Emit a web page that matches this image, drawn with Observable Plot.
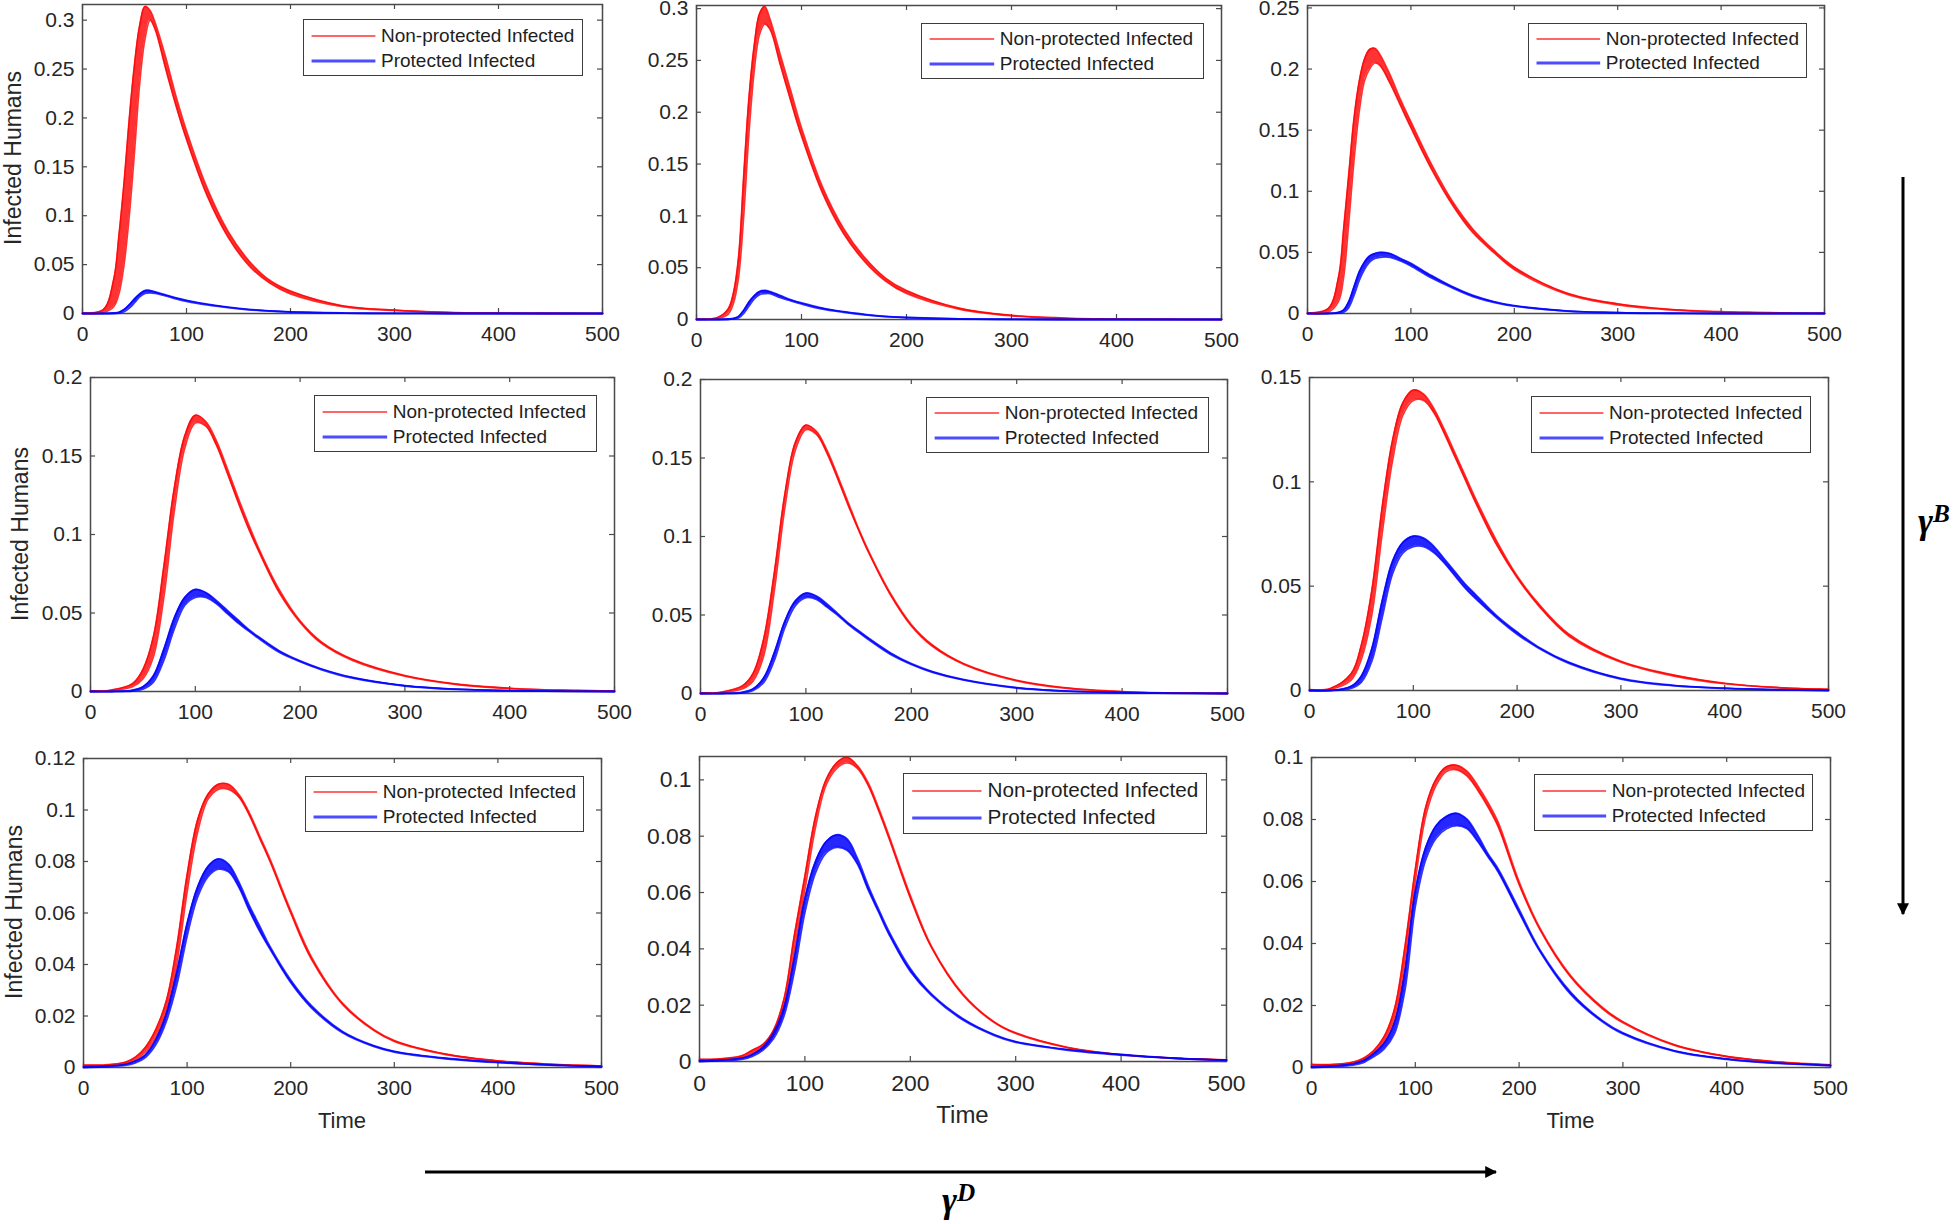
<!DOCTYPE html>
<html><head><meta charset="utf-8">
<script src="https://cdn.jsdelivr.net/npm/d3@7"></script>
<script src="https://cdn.jsdelivr.net/npm/@observablehq/plot@0.6"></script>
<style>
html,body{margin:0;padding:0;background:#fff;}
#fig{position:relative;width:1959px;height:1224px;overflow:hidden;background:#fff;font-family:"Liberation Sans",Arial,Helvetica,sans-serif;color:#262626;}
.legend{position:absolute;border:1.5px solid #3c3c3c;background:#fff;box-sizing:border-box;}
.legend .row{position:absolute;left:0;right:0;height:0;}
.legend .row svg{position:absolute;top:-3px;overflow:visible;}
.legend .row span{position:absolute;top:0;transform:translateY(-52%);white-space:nowrap;line-height:1;color:#1e1e1e;}
.ylab{position:absolute;transform:translate(-50%,-50%) rotate(-90deg);white-space:nowrap;line-height:1;}
.xlab{position:absolute;transform:translate(-50%,-50%);white-space:nowrap;line-height:1;}
.gam{position:absolute;font-family:"Liberation Serif","DejaVu Serif",serif;font-style:italic;font-weight:bold;color:#000;line-height:1;white-space:nowrap;}
.gam sup{font-size:70%;vertical-align:0;position:relative;top:-0.42em;}
</style></head>
<body><div id="fig"></div>
<script>
// ---------- data ----------
const seriesNames = ["Non-protected Infected", "Protected Infected"];
const yLabel = "Infected Humans";
const xLabel = "Time";
const xTicks = [0, 100, 200, 300, 400, 500];
const yTicks03 = [0, 0.05, 0.1, 0.15, 0.2, 0.25, 0.3];
const yTicks025 = [0, 0.05, 0.1, 0.15, 0.2, 0.25];
const yTicks02 = [0, 0.05, 0.1, 0.15, 0.2];
const yTicks015 = [0, 0.05, 0.1, 0.15];
const yTicks012 = [0, 0.02, 0.04, 0.06, 0.08, 0.1, 0.12];
const yTicks01 = [0, 0.02, 0.04, 0.06, 0.08, 0.1];

// time grids
const T1 = [0,20,30,35,40,45,50,55,60,65,70,80,90,100,120,140,160,180,200,250,300,350,400,500];
const T2 = [0,20,40,50,60,70,80,90,100,110,120,130,140,150,160,180,200,220,250,300,350,400,450,500];
const T3 = [0,20,40,50,60,70,80,90,100,110,120,130,140,150,160,170,180,200,220,250,280,300,350,400,450,500];

// row 1
const aRedHi = [0.0005,0.004,0.035,0.08,0.135,0.2,0.255,0.295,0.314,0.31,0.297,0.262,0.222,0.187,0.128,0.084,0.054,0.034,0.023,0.008,0.0035,0.0012,0.0004,0];
const aRedLo = [0,0.001,0.007,0.02,0.05,0.1,0.165,0.235,0.28,0.3,0.29,0.25,0.212,0.178,0.12,0.078,0.049,0.031,0.02,0.007,0.003,0.001,0.0003,0];
const aBlueHi = [0,0,0.0005,0.0012,0.004,0.009,0.015,0.02,0.0235,0.0235,0.022,0.019,0.016,0.0135,0.0095,0.0065,0.0042,0.0027,0.0017,0.0005,0.0001,0,0,0];
const aBlueLo = [0,0,0,0.0004,0.0018,0.0055,0.011,0.017,0.0205,0.021,0.0205,0.018,0.015,0.0125,0.0088,0.006,0.0038,0.0024,0.0015,0.0004,0.0001,0,0,0];

const bRedHi = [0.0005,0.002,0.01,0.025,0.06,0.14,0.215,0.265,0.295,0.302,0.29,0.255,0.22,0.185,0.128,0.088,0.06,0.04,0.028,0.011,0.004,0.0015,0.0005,0];
const bRedLo = [0,0.001,0.005,0.015,0.04,0.1,0.18,0.24,0.275,0.285,0.28,0.245,0.21,0.177,0.122,0.083,0.056,0.037,0.025,0.01,0.0035,0.001,0.0003,0];
const bBlueHi = [0,0,0.0005,0.001,0.003,0.009,0.017,0.023,0.027,0.028,0.027,0.023,0.019,0.016,0.011,0.0075,0.005,0.003,0.002,0.0006,0.0002,0,0,0];
const bBlueLo = [0,0,0,0.0005,0.0015,0.006,0.013,0.02,0.024,0.025,0.025,0.021,0.018,0.015,0.01,0.007,0.0045,0.0027,0.0017,0.0005,0.0001,0,0,0];

const cRedHi = [0.0005,0.004,0.03,0.07,0.115,0.16,0.19,0.208,0.216,0.217,0.212,0.195,0.175,0.157,0.122,0.092,0.069,0.052,0.038,0.017,0.008,0.0035,0.0015,0.0002];
const cRedLo = [0,0.001,0.01,0.03,0.075,0.125,0.165,0.19,0.2,0.205,0.203,0.188,0.17,0.152,0.118,0.089,0.066,0.05,0.036,0.016,0.007,0.003,0.0012,0.0001];
const cBlueHi = [0,0,0.001,0.003,0.01,0.022,0.034,0.042,0.047,0.049,0.05,0.049,0.045,0.041,0.031,0.022,0.0148,0.0098,0.0064,0.0022,0.0007,0.0002,0,0];
const cBlueLo = [0,0,0.0003,0.001,0.005,0.015,0.027,0.036,0.042,0.045,0.046,0.046,0.043,0.039,0.029,0.021,0.0138,0.0092,0.006,0.002,0.0006,0.0001,0,0];

// row 2
const dRedHi = [0.0005,0.001,0.005,0.014,0.035,0.08,0.13,0.163,0.176,0.172,0.16,0.143,0.125,0.108,0.092,0.065,0.045,0.0318,0.0205,0.0102,0.0047,0.0021,0.0009,0.0004];
const dRedLo = [0,0.0005,0.003,0.008,0.022,0.06,0.115,0.155,0.171,0.169,0.157,0.14,0.122,0.105,0.09,0.063,0.044,0.0308,0.0198,0.0097,0.0044,0.0019,0.0008,0.0003];
const dBlueHi = [0,0,0.0008,0.003,0.01,0.027,0.047,0.06,0.065,0.063,0.058,0.052,0.046,0.04,0.035,0.026,0.0195,0.0145,0.009,0.0038,0.0015,0.0006,0.0002,0];
const dBlueLo = [0,0,0.0003,0.0015,0.006,0.02,0.04,0.055,0.06,0.06,0.056,0.05,0.044,0.039,0.034,0.025,0.019,0.014,0.0085,0.0035,0.0013,0.0005,0.0001,0];

const eRedHi = [0.0005,0.001,0.005,0.013,0.035,0.077,0.127,0.16,0.171,0.167,0.155,0.139,0.122,0.105,0.09,0.064,0.044,0.031,0.019,0.0085,0.0035,0.0013,0.0004,0.0001];
const eRedLo = [0,0.0005,0.003,0.008,0.024,0.065,0.118,0.155,0.168,0.165,0.153,0.137,0.12,0.104,0.089,0.063,0.043,0.03,0.0185,0.008,0.003,0.001,0.0003,0];
const eBlueHi = [0,0,0.0008,0.003,0.01,0.026,0.046,0.059,0.064,0.062,0.057,0.051,0.045,0.04,0.035,0.026,0.019,0.014,0.0088,0.0037,0.0015,0.0006,0.0002,0];
const eBlueLo = [0,0,0.0004,0.002,0.007,0.021,0.042,0.056,0.061,0.06,0.055,0.05,0.044,0.039,0.034,0.025,0.0185,0.0135,0.0085,0.0035,0.0013,0.0005,0.0001,0];

const fRedHi = [0.0005,0.001,0.008,0.022,0.048,0.088,0.12,0.138,0.144,0.142,0.135,0.125,0.114,0.103,0.092,0.072,0.055,0.042,0.027,0.014,0.0075,0.0035,0.0015,0.0006];
const fRedLo = [0,0.0005,0.005,0.015,0.036,0.075,0.11,0.132,0.139,0.139,0.133,0.123,0.112,0.101,0.09,0.07,0.054,0.041,0.026,0.0135,0.007,0.0032,0.0013,0.0005];
const fBlueHi = [0,0,0.002,0.007,0.02,0.043,0.062,0.071,0.074,0.073,0.069,0.063,0.057,0.051,0.046,0.036,0.028,0.021,0.0135,0.0058,0.0025,0.0011,0.0004,0.0001];
const fBlueLo = [0,0,0.001,0.004,0.014,0.035,0.056,0.066,0.069,0.069,0.066,0.061,0.055,0.049,0.044,0.035,0.027,0.0205,0.013,0.0055,0.0023,0.001,0.0003,0];

// row 3
const gRedHi = [0.001,0.001,0.002,0.004,0.008,0.015,0.026,0.047,0.075,0.096,0.106,0.11,0.11,0.106,0.099,0.09,0.081,0.061,0.043,0.025,0.0148,0.0105,0.0052,0.0026,0.0013,0.0006];
const gRedLo = [0.0005,0.0007,0.0015,0.003,0.006,0.012,0.021,0.04,0.068,0.091,0.104,0.108,0.108,0.105,0.098,0.089,0.08,0.06,0.042,0.0245,0.0144,0.0101,0.005,0.0025,0.0012,0.0005];
const gBlueHi = [0.0003,0.0005,0.0012,0.0025,0.005,0.011,0.021,0.037,0.056,0.07,0.078,0.081,0.079,0.072,0.063,0.055,0.047,0.034,0.024,0.014,0.0085,0.0063,0.0036,0.0021,0.001,0.0004];
const gBlueLo = [0,0.0003,0.0008,0.0018,0.004,0.009,0.018,0.032,0.051,0.066,0.074,0.077,0.076,0.07,0.061,0.053,0.046,0.033,0.0232,0.0135,0.0082,0.006,0.0034,0.0019,0.0009,0.0003];

const hRedHi = [0.0008,0.001,0.002,0.004,0.006,0.011,0.022,0.045,0.066,0.087,0.1,0.106,0.108,0.105,0.099,0.09,0.08,0.059,0.041,0.024,0.014,0.0102,0.005,0.0025,0.0012,0.0006];
const hRedLo = [0.0004,0.0007,0.0015,0.003,0.0045,0.009,0.018,0.04,0.061,0.083,0.098,0.104,0.106,0.104,0.098,0.089,0.079,0.058,0.0405,0.0235,0.0137,0.0099,0.0048,0.0024,0.0011,0.0005];
const hBlueHi = [0.0003,0.0005,0.0012,0.0025,0.005,0.01,0.019,0.037,0.058,0.071,0.078,0.0805,0.079,0.072,0.0625,0.054,0.046,0.033,0.024,0.0152,0.0095,0.0071,0.0042,0.0025,0.0012,0.0005];
const hBlueLo = [0,0.0003,0.0008,0.0018,0.004,0.008,0.016,0.032,0.053,0.067,0.074,0.076,0.075,0.07,0.061,0.053,0.045,0.032,0.0235,0.0147,0.0092,0.0068,0.004,0.0023,0.0011,0.0004];

const iRedHi = [0.001,0.001,0.0018,0.003,0.0055,0.01,0.019,0.039,0.064,0.084,0.093,0.097,0.0975,0.0955,0.091,0.0855,0.079,0.06,0.045,0.0295,0.0195,0.0148,0.0073,0.0036,0.0018,0.0009];
const iRedLo = [0.0005,0.0007,0.0014,0.0025,0.0045,0.008,0.015,0.032,0.06,0.081,0.091,0.0955,0.096,0.094,0.0895,0.084,0.0775,0.059,0.0445,0.029,0.019,0.0144,0.0071,0.0035,0.0017,0.0008];
const iBlueHi = [0.0003,0.0005,0.0012,0.0022,0.0045,0.0078,0.0145,0.031,0.057,0.071,0.078,0.081,0.082,0.08,0.075,0.069,0.064,0.051,0.038,0.0242,0.0152,0.0112,0.0054,0.0028,0.0014,0.0007];
const iBlueLo = [0,0.0003,0.0008,0.0016,0.0035,0.006,0.011,0.025,0.052,0.067,0.074,0.077,0.078,0.077,0.073,0.068,0.063,0.05,0.0375,0.0235,0.0148,0.0108,0.0052,0.0026,0.0013,0.0006];

// ---------- layout ----------
const panels = [
  {t:T1, rh:aRedHi, rl:aRedLo, bh:aBlueHi, bl:aBlueLo, L:82,  R:602,  Tp:4,   B:313,  ymax:0.316, yt:yTicks03,  lg:[303,19,280,57],  ylab:[13,158], s:1},
  {t:T1, rh:bRedHi, rl:bRedLo, bh:bBlueHi, bl:bBlueLo, L:696, R:1221, Tp:5,   B:319,  ymax:0.303, yt:yTicks03,  lg:[921,23,283,56],  s:1},
  {t:T1, rh:cRedHi, rl:cRedLo, bh:cBlueHi, bl:cBlueLo, L:1307,R:1824, Tp:5,   B:313,  ymax:0.252, yt:yTicks025, lg:[1528,23,279,55], s:1},
  {t:T2, rh:dRedHi, rl:dRedLo, bh:dBlueHi, bl:dBlueLo, L:90,  R:614,  Tp:377, B:691,  ymax:0.2,   yt:yTicks02,  lg:[314,395,283,57], ylab:[20,534], s:1},
  {t:T2, rh:eRedHi, rl:eRedLo, bh:eBlueHi, bl:eBlueLo, L:700, R:1227, Tp:379, B:693,  ymax:0.2,   yt:yTicks02,  lg:[926,397,283,56], s:1},
  {t:T2, rh:fRedHi, rl:fRedLo, bh:fBlueHi, bl:fBlueLo, L:1309,R:1828, Tp:377, B:690,  ymax:0.15,  yt:yTicks015, lg:[1531,396,280,57],s:1},
  {t:T3, rh:gRedHi, rl:gRedLo, bh:gBlueHi, bl:gBlueLo, L:83,  R:601,  Tp:758, B:1067, ymax:0.12,  yt:yTicks012, lg:[305,776,279,56], ylab:[14,912], xl:true, s:1},
  {t:T3, rh:hRedHi, rl:hRedLo, bh:hBlueHi, bl:hBlueLo, L:699, R:1226, Tp:756, B:1061, ymax:0.1083,yt:yTicks01,  lg:[903,773,304,61], xl:true, s:1.09},
  {t:T3, rh:iRedHi, rl:iRedLo, bh:iBlueHi, bl:iBlueLo, L:1311,R:1830, Tp:757, B:1067, ymax:0.1,   yt:yTicks01,  lg:[1534,774,279,57], xl:true, s:1}
];

const fig = document.getElementById("fig");
const fmt = d3.format("~g");
const RED = "#ff0000", BLUE = "#0000ff", AX = "#4a4a4a";

panels.forEach(p => {
  const data = p.t.map((t, i) => ({t, rh: p.rh[i], rl: p.rl[i], bh: p.bh[i], bl: p.bl[i]}));
  const fw = p.R - p.L, fh = p.B - p.Tp;
  const ml = 72, mr = 14, mt = 14, mb = 48;
  const tx = 5 * 500 / fw, ty = 5 * p.ymax / fh;
  const curve = "catmull-rom";
  const chart = Plot.plot({
    width: fw + ml + mr, height: fh + mt + mb,
    marginLeft: ml, marginRight: mr, marginTop: mt, marginBottom: mb,
    x: {domain: [0, 500], label: null},
    y: {domain: [0, p.ymax], label: null},
    style: {background: "transparent", overflow: "visible", maxWidth: "none",
            fontFamily: '"Liberation Sans", Arial, Helvetica, sans-serif',
            fontSize: (21 * p.s) + "px", color: "#262626"},
    marks: [
      Plot.frame({stroke: AX, strokeWidth: 1.5}),
      Plot.ruleX(xTicks, {x: d => d, y1: 0, y2: ty, stroke: AX, strokeWidth: 1.2}),
      Plot.ruleX(xTicks, {x: d => d, y1: p.ymax - ty, y2: p.ymax, stroke: AX, strokeWidth: 1.2}),
      Plot.ruleY(p.yt, {y: d => d, x1: 0, x2: tx, stroke: AX, strokeWidth: 1.2}),
      Plot.ruleY(p.yt, {y: d => d, x1: 500 - tx, x2: 500, stroke: AX, strokeWidth: 1.2}),
      Plot.areaY(data, {x: "t", y1: "rl", y2: "rh", fill: RED, fillOpacity: 0.8, curve}),
      Plot.line(data, {x: "t", y: "rh", stroke: RED, strokeWidth: 1.6, strokeOpacity: 0.8, curve}),
      Plot.line(data, {x: "t", y: "rl", stroke: RED, strokeWidth: 1.6, strokeOpacity: 0.8, curve}),
      Plot.areaY(data, {x: "t", y1: "bl", y2: "bh", fill: BLUE, fillOpacity: 0.85, curve}),
      Plot.line(data, {x: "t", y: "bh", stroke: BLUE, strokeWidth: 1.8, strokeOpacity: 0.8, curve}),
      Plot.line(data, {x: "t", y: "bl", stroke: BLUE, strokeWidth: 1.8, strokeOpacity: 0.8, curve}),
      Plot.axisX({ticks: xTicks, tickSize: 0, tickPadding: 13, tickFormat: fmt, label: null}),
      Plot.axisY({ticks: p.yt, tickSize: 0, tickPadding: 8, tickFormat: fmt, label: null})
    ]
  });
  chart.style.position = "absolute";
  chart.style.left = (p.L - ml) + "px";
  chart.style.top = (p.Tp - mt) + "px";
  fig.appendChild(chart);

  // legend
  const [lx, ly, lw, lh] = p.lg;
  const lg = document.createElement("div");
  lg.className = "legend";
  Object.assign(lg.style, {left: lx + "px", top: ly + "px", width: lw + "px", height: lh + "px"});
  const rows = [[seriesNames[0], RED, 0.30, 2.2, 0.6], [seriesNames[1], BLUE, 0.74, 2.8, 0.7]];
  rows.forEach(([name, col, fy, sw, op]) => {
    const r = document.createElement("div");
    r.className = "row";
    r.style.top = (lh * fy - 1.5) + "px";
    const x1 = lw * 0.027, x2 = lw * 0.255;
    r.innerHTML = `<svg width="${x2}" height="6" style="left:0"><line x1="${x1}" y1="3" x2="${x2}" y2="3" stroke="${col}" stroke-width="${sw}" stroke-opacity="${op}"/></svg>` +
      `<span style="left:${lw * 0.275}px;font-size:${19 * p.s}px">${name}</span>`;
    lg.appendChild(r);
  });
  fig.appendChild(lg);

  if (p.ylab) {
    const yl = document.createElement("div");
    yl.className = "ylab";
    yl.textContent = yLabel;
    Object.assign(yl.style, {left: p.ylab[0] + "px", top: p.ylab[1] + "px", fontSize: "23px"});
    fig.appendChild(yl);
  }
  if (p.xl) {
    const xl = document.createElement("div");
    xl.className = "xlab";
    xl.textContent = xLabel;
    Object.assign(xl.style, {left: ((p.L + p.R) / 2) + "px", top: (p.B + 54) + "px", fontSize: (22 * p.s) + "px"});
    fig.appendChild(xl);
  }
});

// direction arrows (annotation)
const ns = "http://www.w3.org/2000/svg";
const ov = document.createElementNS(ns, "svg");
ov.setAttribute("width", 1959); ov.setAttribute("height", 1224);
ov.style.position = "absolute"; ov.style.left = "0"; ov.style.top = "0"; ov.style.pointerEvents = "none";
ov.innerHTML = `<defs><marker id="ah" viewBox="0 0 10 10" refX="9" refY="5" markerWidth="4" markerHeight="4" orient="auto"><path d="M0,0L10,5L0,10z" fill="#000"/></marker></defs>
<line x1="1903" y1="177" x2="1903" y2="914" stroke="#000" stroke-width="3" marker-end="url(#ah)"/>
<line x1="425" y1="1172" x2="1496" y2="1172" stroke="#000" stroke-width="3" marker-end="url(#ah)"/>`;
fig.appendChild(ov);

const gB = document.createElement("div");
gB.className = "gam";
gB.innerHTML = "γ<sup>B</sup>";
Object.assign(gB.style, {left: "1918px", top: "503px", fontSize: "36px"});
fig.appendChild(gB);
const gD = document.createElement("div");
gD.className = "gam";
gD.innerHTML = "γ<sup>D</sup>";
Object.assign(gD.style, {left: "942px", top: "1182px", fontSize: "36px"});
fig.appendChild(gD);
</script>
</body></html>
